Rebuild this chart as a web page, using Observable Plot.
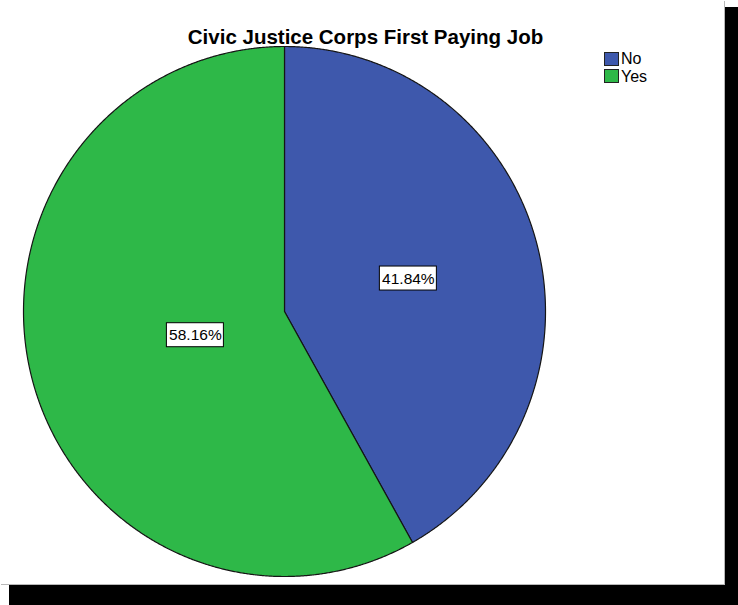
<!DOCTYPE html>
<html>
<head>
<meta charset="utf-8">
<script src="https://cdn.jsdelivr.net/npm/d3@7"></script>
<script src="https://cdn.jsdelivr.net/npm/@observablehq/plot@0.6"></script>
<style>
  html, body { margin: 0; padding: 0; background: #fff; }
  body { width: 738px; height: 605px; position: relative; overflow: hidden; font-family: "Liberation Sans", Arial, sans-serif; }
  #shadow { position: absolute; left: 9px; top: 7px; width: 729px; height: 598px; background: #000; }
  #sheet { position: absolute; left: 0; top: 0; width: 724px; height: 584px; background: #fff;
           box-shadow: 1px 1px 0 #b8b8b8; }
  #chart { position: absolute; left: 0; top: 0; }
  #title { position: absolute; left: 0; top: 27px; width: 731px; text-align: center;
           font-weight: bold; font-size: 20.5px; line-height: 20px; color: #000; }
  #legend { position: absolute; left: 604px; top: 50px; }
  .row { display: flex; align-items: center; height: 17.5px; }
  .sw { width: 15px; height: 14px; box-sizing: border-box; border: 1px solid #222; margin-right: 2px; }
  .lab { font-size: 16px; line-height: 15px; color: #000; }
</style>
</head>
<body>
<div id="shadow"></div>
<div id="sheet">
  <div id="chart"></div>
  <div id="title">Civic Justice Corps First Paying Job</div>
  <div id="legend"></div>
</div>
<script>
// Share of participants by whether they held a first paying job
const categories = ["No", "Yes"];
const percents = [41.84, 58.16];

// Slice colours, in category order
const sliceColors = ["#3e58ac", "#2eb848"];

// Slices run clockwise from twelve o'clock
let start = 0;
const slices = categories.map((name, i) => {
  const a0 = start;
  const a1 = start + (percents[i] / 100) * 2 * Math.PI;
  start = a1;
  return { name, value: percents[i], a0, a1 };
});

// Each wedge outline: centre -> arc -> centre, in unit-circle coordinates
const outline = [];
for (const s of slices) {
  const steps = Math.ceil((s.a1 - s.a0) / (Math.PI / 720));
  outline.push({ name: s.name, x: 0, y: 0 });
  for (let k = 0; k <= steps; k++) {
    const a = s.a0 + (s.a1 - s.a0) * k / steps;
    outline.push({ name: s.name, x: Math.sin(a), y: Math.cos(a) });
  }
  outline.push({ name: s.name, x: 0, y: 0 });
}

// Value labels sit at each sector's centroid
const labels = slices.map(s => {
  const half = (s.a1 - s.a0) / 2;
  const mid = s.a0 + half;
  const r = (2 * Math.sin(half)) / (3 * half);
  return { name: s.name, value: s.value, x: r * Math.sin(mid), y: r * Math.cos(mid) };
});

// Pixel geometry of the pie
const cx = 284, cy = 311, rx = 261, ry = 265;
const boxW = 57, boxH = 24;
const bx = (boxW / 2) / rx, by = (boxH / 2) / ry;

const chart = Plot.plot({
  width: 724,
  height: 584,
  margin: 0,
  style: { background: "transparent", overflow: "visible" },
  x: { domain: [-1, 1], range: [cx - rx, cx + rx], axis: null },
  y: { domain: [-1, 1], range: [cy + ry, cy - ry], axis: null },
  color: { domain: categories, range: sliceColors },
  marks: [
    Plot.line(outline, {
      x: "x", y: "y", z: "name", fill: "name",
      stroke: "#151515", strokeWidth: 1.2, strokeLinejoin: "round", curve: "linear"
    }),
    Plot.rect(labels, {
      x1: d => d.x - bx, x2: d => d.x + bx,
      y1: d => d.y - by, y2: d => d.y + by,
      fill: "#fff", stroke: "#000", strokeWidth: 1
    }),
    Plot.text(labels, {
      x: "x", y: "y", text: d => d.value.toFixed(2) + "%",
      fontSize: 15.5, fill: "#000", fontFamily: "Liberation Sans, Arial, sans-serif",
      textAnchor: "middle", lineAnchor: "middle"
    })
  ]
});
document.getElementById("chart").appendChild(chart);

// Legend
const legend = document.getElementById("legend");
categories.forEach((c, i) => {
  const row = document.createElement("div");
  row.className = "row";
  const sw = document.createElement("div");
  sw.className = "sw";
  sw.style.background = sliceColors[i];
  const lab = document.createElement("span");
  lab.className = "lab";
  lab.textContent = c;
  row.appendChild(sw);
  row.appendChild(lab);
  legend.appendChild(row);
});
</script>
</body>
</html>
